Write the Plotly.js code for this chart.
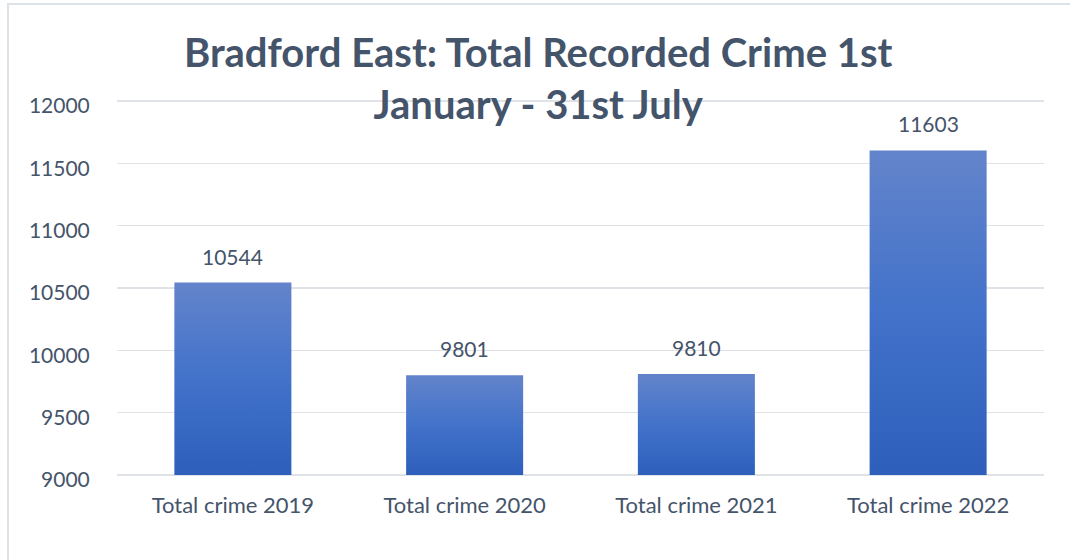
<!DOCTYPE html>
<html>
<head>
<meta charset="utf-8">
<script src="https://cdn.plot.ly/plotly-3.0.1.min.js"></script>
<style>
html,body{margin:0;padding:0;background:#fff;overflow:hidden;}
#chart{position:absolute;left:0;top:0;width:1070px;height:560px;}
#frame{position:absolute;left:7px;top:3px;width:1100px;height:600px;border-left:2px solid #DDE2E7;border-top:2px solid #DDE2E7;pointer-events:none;}
</style>
</head>
<body>
<div id="chart"></div>
<div id="frame"></div>
<script>
const categories = ["Total crime 2019", "Total crime 2020", "Total crime 2021", "Total crime 2022"];
const totals = [10544, 9801, 9810, 11603];
const yTicks = [9000, 9500, 10000, 10500, 11000, 11500, 12000];
const axisBase = yTicks[0];

const textColor = '#44546A';
const font = 'Lato, Carlito, Calibri, sans-serif';

const trace = {
  type: 'bar',
  x: categories,
  base: axisBase,
  y: totals.map(v => v - axisBase),
  width: 0.505,
  marker: {color: '#4472C4', line: {width: 0}},
  hoverinfo: 'none'
};

const annotations = categories.map((c, i) => ({
  x: c, y: totals[i], xref: 'x', yref: 'y',
  text: String(totals[i]), showarrow: false,
  yanchor: 'bottom', yshift: 12,
  font: {family: font, size: 21, color: textColor}
}));

const layout = {
  width: 1070, height: 560,
  margin: {l: 117, r: 26, t: 98, b: 82},
  paper_bgcolor: '#fff', plot_bgcolor: '#fff',
  title: {
    text: 'Bradford East: Total Recorded Crime 1st<br>January - 31st July',
    font: {family: font, size: 40, color: textColor, weight: 'bold'},
    x: 0.503, xanchor: 'center', yref: 'container', y: 0.881, yanchor: 'middle'
  },
  showlegend: false,
  bargap: 0.5,
  xaxis: {
    type: 'category',
    showgrid: false, showline: false, zeroline: false,
    ticks: 'outside', ticklen: 8, tickcolor: 'rgba(0,0,0,0)',
    tickfont: {family: font, size: 22, color: textColor}
  },
  yaxis: {
    range: [8976, 12024],
    tickvals: yTicks, ticktext: yTicks.map(String),
    showgrid: true, gridcolor: '#DFE2E7', gridwidth: 1.5,
    showline: false, zeroline: false,
    ticks: 'outside', ticklen: 22, tickcolor: 'rgba(0,0,0,0)',
    ticklabelshift: 5,
    tickfont: {family: font, size: 21, color: textColor}
  },
  annotations: annotations
};

Plotly.newPlot('chart', [trace], layout, {displayModeBar: false, staticPlot: true}).then(function(gd){
  const svg = gd.querySelector('.main-svg');
  const ns = 'http://www.w3.org/2000/svg';
  let defs = svg.querySelector('defs');
  if (!defs) { defs = document.createElementNS(ns, 'defs'); svg.insertBefore(defs, svg.firstChild); }
  const g = document.createElementNS(ns, 'linearGradient');
  g.setAttribute('id', 'barGrad');
  g.setAttribute('x1', '0'); g.setAttribute('y1', '0');
  g.setAttribute('x2', '0'); g.setAttribute('y2', '1');
  [['0', '#6384CB'], ['0.5', '#4272CA'], ['1', '#2D5FBB']].forEach(function(s){
    const st = document.createElementNS(ns, 'stop');
    st.setAttribute('offset', s[0]); st.setAttribute('stop-color', s[1]);
    g.appendChild(st);
  });
  defs.appendChild(g);
  gd.querySelectorAll('.barlayer .point path').forEach(function(p){
    p.style.fill = 'url(#barGrad)';
  });
});
</script>
</body>
</html>
